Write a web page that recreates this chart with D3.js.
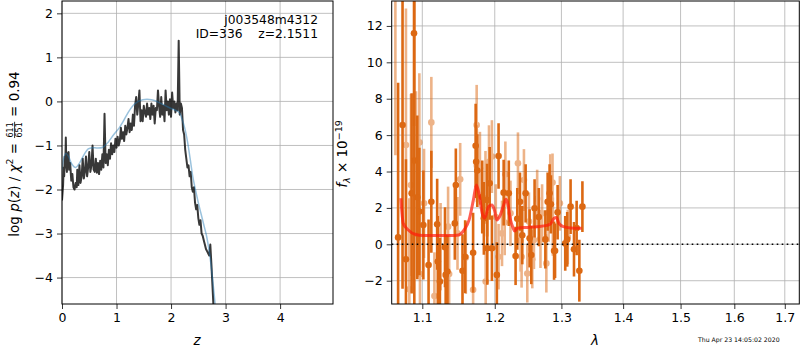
<!DOCTYPE html>
<html><head><meta charset="utf-8">
<script src="https://cdn.jsdelivr.net/npm/d3@7"></script>
<style>body{margin:0;background:#fff}svg{display:block;font-family:"DejaVu Sans",sans-serif}</style>
</head><body><svg id="c" width="800" height="350"></svg>
<script>
// ---------- Left panel: log p(z) ----------
const zGrid = [0.00,0.02,0.03,0.04,0.05,0.06,0.07,0.08,0.09,0.10,0.12,0.13,0.15,0.17,0.19,0.21,0.23,0.25,0.27,0.28,0.30,0.32,0.34,0.36,0.38,0.40,0.42,0.44,0.46,0.48,0.50,0.52,0.54,0.56,0.58,0.60,0.62,0.64,0.66,0.68,0.70,0.72,0.74,0.76,0.78,0.80,0.82,0.84,0.86,0.88,0.90,0.92,0.94,0.96,0.98,1.00,1.02,1.04,1.06,1.08,1.10,1.12,1.14,1.16,1.18,1.20,1.22,1.24,1.26,1.28,1.30,1.32,1.34,1.36,1.38,1.40,1.42,1.44,1.46,1.48,1.50,1.52,1.54,1.56,1.58,1.60,1.62,1.64,1.66,1.68,1.70,1.72,1.74,1.76,1.78,1.80,1.82,1.84,1.86,1.88,1.90,1.92,1.94,1.96,1.98,2.00,2.02,2.04,2.06,2.08,2.10,2.12,2.14,2.16,2.18,2.20,2.22,2.24,2.26,2.28,2.30,2.32,2.34,2.36,2.38,2.40,2.42,2.44,2.46,2.48,2.50,2.52,2.54,2.56,2.58,2.60,2.62,2.64,2.66,2.68,2.70,2.72,2.74,2.76,2.78];
const logPz = [-2.25,-1.9,-1.5,-1.7,-1.25,-1.45,-0.82,-1.5,-1.6,-1.2,-1.15,-1.55,-1.4,-1.8,-1.65,-1.95,-2.0,-1.85,-1.95,-1.55,-1.9,-1.45,-1.85,-1.7,-1.3,-1.75,-1.6,-1.25,-1.7,-1.5,-1.15,-1.6,-1.45,-1.0,-1.55,-1.6,-1.3,-1.62,-1.4,-1.65,-1.35,-1.55,-1.2,-1.5,-0.28,-1.4,-1.2,-1.45,-1.1,-1.3,-0.95,-1.2,-1.0,-1.15,-0.85,-1.05,-0.8,-1.0,-0.9,-0.6,-0.85,-0.7,-0.9,-0.55,-0.75,-0.6,-0.4,-0.7,-0.5,-0.65,-0.3,-0.55,-0.1,0.1,-0.3,-0.05,0.25,-0.45,-0.2,-0.45,-0.1,-0.25,-0.35,-0.05,-0.3,-0.15,-0.4,-0.05,-0.3,-0.1,-0.5,-0.15,-0.2,0.25,-0.1,-0.35,0.1,-0.3,-0.1,-0.45,0.25,-0.2,0.0,-0.3,0.05,-0.35,0.2,-0.15,0.0,-0.25,-0.05,-0.2,1.38,-0.3,-0.05,-0.15,-0.65,-0.75,-1.1,-1.3,-1.5,-1.45,-1.7,-1.6,-1.95,-2.05,-1.95,-2.3,-2.45,-2.35,-2.65,-2.8,-2.7,-3.0,-3.05,-3.15,-3.25,-3.35,-3.4,-3.45,-3.5,-3.25,-3.7,-4.2,-4.7];
const zSmooth = [0.00,0.03,0.07,0.12,0.18,0.25,0.32,0.40,0.48,0.56,0.65,0.75,0.85,0.95,1.05,1.12,1.18,1.25,1.32,1.40,1.48,1.56,1.64,1.72,1.80,1.90,2.00,2.08,2.15,2.20,2.25,2.30,2.35,2.40,2.45,2.50,2.55,2.60,2.65,2.70,2.75,2.80,2.84];
const logPzSmooth = [-1.55,-1.3,-1.18,-1.25,-1.42,-1.5,-1.4,-1.22,-1.08,-1.05,-1.06,-1.04,-0.92,-0.75,-0.6,-0.46,-0.32,-0.18,-0.07,0.0,0.04,0.05,0.04,0.01,-0.04,-0.1,-0.16,-0.2,-0.25,-0.4,-0.6,-0.9,-1.3,-1.72,-2.02,-2.3,-2.55,-2.8,-3.05,-3.4,-3.9,-4.5,-5.0];
const zTicks = [0,1,2,3,4];
const lnpTicks = [-4,-3,-2,-1,0,1,2];

// ---------- Right panel: spectrum ----------
const waveA = [1.0685,1.0742,1.0786,1.0860,1.0891,1.0895,1.0934,1.0961,1.1014,1.1083,1.1120,1.1198,1.1207,1.1235,1.1304,1.1313,1.1337,1.1438,1.1452,1.1544,1.1581,1.1692,1.1728,1.1735,1.1751,1.1821,1.1844,1.1890,1.1893,1.1927,1.1959,1.2030,1.2055,1.2129,1.2204,1.2304,1.2329,1.2369,1.2403,1.2453,1.2513,1.2538,1.2588,1.2652,1.2752,1.2787,1.2817,1.2837,1.2886,1.2901,1.2941,1.3060,1.3091,1.3144,1.3198,1.3240,1.3283,1.3332];
const fluxA = [0.38,6.56,-0.82,2.80,11.6,4.6,2.58,1.80,1.06,-1.14,2.34,1.10,-0.95,-2.05,-0.16,-1.68,-1.50,1.15,3.26,-1.45,-0.68,-0.46,5.42,4.54,4.05,2.60,1.43,2.43,-0.22,3.35,-0.22,-1.68,4.85,2.84,2.80,-0.64,1.40,2.34,0.50,2.80,0.33,-0.59,1.98,1.50,0.27,2.34,2.80,2.20,-0.35,-0.35,1.76,0.05,0.27,2.07,-0.27,0.9,-1.45,2.07];
const errA = [8.5,9.0,5.5,5.5,5.1,9.0,4.5,3.5,3.0,2.5,2.8,2.5,2.5,2.4,2.2,2.2,2.0,2.0,2.0,2.0,2.0,2.2,2.3,2.0,2.0,2.0,2.0,2.0,2.0,2.0,1.8,1.8,1.8,1.8,1.8,1.6,1.7,1.6,1.6,1.6,1.6,1.6,1.6,1.6,1.6,1.6,1.6,1.6,1.6,1.5,1.5,1.5,1.5,1.5,1.5,1.5,1.7,1.4];
const waveB = [1.0650,1.0786,1.0830,1.0851,1.0917,1.0961,1.0969,1.1023,1.1120,1.1161,1.1244,1.1346,1.1360,1.1475,1.1512,1.1590,1.1692,1.1742,1.1745,1.1788,1.1867,1.1870,1.1917,1.1959,1.2015,1.2055,1.2105,1.2144,1.2154,1.2229,1.2339,1.2378,1.2393,1.2428,1.2478,1.2503,1.2553,1.2578,1.2627,1.2677,1.2702,1.2767,1.2802,1.2827,1.2862,1.2867,1.2976,1.3100];
const fluxB = [15.0,5.46,-2.47,3.26,4.41,5.60,-1.63,2.25,6.70,-2.84,-0.13,0.97,-1.63,0.60,3.57,-0.73,-2.50,6.56,4.32,4.18,3.13,-2.05,4.54,4.82,1.5,-0.68,0.60,1.2,3.85,1.70,4.45,0.20,-0.68,3.53,-1.60,1.25,-0.82,0.24,2.50,0.30,1.70,-1.05,1.74,3.35,3.39,0.97,2.25,0.4];
const errB = [10.1,7.5,5.0,5.0,4.0,3.8,3.5,3.0,2.5,2.4,2.4,2.2,2.2,2.0,2.0,2.0,2.0,2.2,2.0,2.0,2.0,2.0,2.0,2.0,1.8,1.8,1.8,1.8,1.8,1.8,1.7,1.7,1.7,1.7,1.6,1.6,1.6,1.6,1.6,1.6,1.6,1.6,1.6,1.6,1.6,1.6,1.5,1.5];
const modelWave = [1.0720,1.0751,1.0816,1.0904,1.1014,1.1383,1.1490,1.1567,1.1636,1.1696,1.1738,1.1774,1.1821,1.1853,1.1913,1.1959,1.1995,1.2030,1.2080,1.2129,1.2164,1.2194,1.2229,1.2269,1.2290,1.2329,1.2478,1.2627,1.2777,1.2837,1.2886,1.2921,1.2961,1.3030,1.3144,1.3320];
const modelFlux = [2.53,1.15,0.79,0.55,0.48,0.48,0.51,0.79,1.34,2.44,3.26,2.80,1.70,1.43,2.07,2.16,1.89,1.34,1.61,2.16,2.47,2.16,1.34,0.88,0.73,0.88,0.93,0.97,1.04,1.15,1.43,1.48,1.15,0.97,0.90,0.88];
const waveTicks = [1.1,1.2,1.3,1.4,1.5,1.6,1.7];
const fluxTicks = [-2,0,2,4,6,8,10,12];

const svg = d3.select("#c");
const L = {x0:62,x1:333,y0:1,y1:304};
const R = {x0:391.7,x1:799.3,y0:1,y1:304};
const zx = d3.scaleLinear().domain([0,4.97]).range([L.x0,L.x1]);
const zy = d3.scaleLinear().domain([-4.6,2.28]).range([L.y1,L.y0]);
const wx = d3.scaleLog().domain([1.0603,1.7299]).range([R.x0,R.x1]);
const fy = d3.scaleLinear().domain([-3.28,13.37]).range([R.y1,R.y0]);
const TF = 12.5;
const GRID = "#b0b0b0";

const defs = svg.append("defs");
defs.append("clipPath").attr("id","cl").append("rect").attr("x",L.x0).attr("y",L.y0).attr("width",L.x1-L.x0).attr("height",L.y1-L.y0);
defs.append("clipPath").attr("id","cr").append("rect").attr("x",R.x0).attr("y",R.y0).attr("width",R.x1-R.x0).attr("height",R.y1-R.y0);

function panel(box, xs, ys, xt, yt, xfmt, yfmt){
  const g = svg.append("g");
  g.selectAll(".gx").data(xt).join("line").attr("x1",d=>xs(d)).attr("x2",d=>xs(d)).attr("y1",box.y0).attr("y2",box.y1).attr("stroke",GRID).attr("stroke-width",0.8);
  g.selectAll(".gy").data(yt).join("line").attr("y1",d=>ys(d)).attr("y2",d=>ys(d)).attr("x1",box.x0).attr("x2",box.x1).attr("stroke",GRID).attr("stroke-width",0.8);
  const ax = svg.append("g").attr("transform",`translate(0,${box.y1})`).call(d3.axisBottom(xs).tickValues(xt).tickFormat(xfmt).tickSize(5).tickPadding(4));
  const ay = svg.append("g").attr("transform",`translate(${box.x0},0)`).call(d3.axisLeft(ys).tickValues(yt).tickFormat(yfmt).tickSize(5).tickPadding(4));
  [ax,ay].forEach(a=>{a.select(".domain").remove();a.selectAll("text").attr("font-size",TF).attr("font-family","DejaVu Sans").attr("fill","#000");a.selectAll("line").attr("stroke","#000").attr("stroke-width",0.8);});
  return g;
}
panel(L, zx, zy, zTicks, lnpTicks, d3.format("d"), d3.format("d"));
panel(R, wx, fy, waveTicks, fluxTicks, d3.format(".1f"), d3.format("d"));

// left data
const gl = svg.append("g").attr("clip-path","url(#cl)");
gl.append("path").datum(zGrid.map((z,i)=>[z,logPz[i]])).attr("d",d3.line().x(d=>zx(d[0])).y(d=>zy(d[1])))
  .attr("fill","none").attr("stroke","#000").attr("stroke-opacity",0.78).attr("stroke-width",2).attr("stroke-linejoin","round");
gl.append("path").datum(zSmooth.map((z,i)=>[z,logPzSmooth[i]])).attr("d",d3.line().curve(d3.curveCatmullRom).x(d=>zx(d[0])).y(d=>zy(d[1])))
  .attr("fill","none").attr("stroke","#1f77b4").attr("stroke-opacity",0.45).attr("stroke-width",1.5);

// right data
const gr = svg.append("g").attr("clip-path","url(#cr)");
const OR = "#dc6812";
function errSet(w,f,e,op){
  const g = gr.append("g").attr("opacity",op);
  const d = w.map((x,i)=>({x,f:f[i],e:e[i]}));
  g.selectAll("line").data(d).join("line").attr("x1",d=>wx(d.x)).attr("x2",d=>wx(d.x)).attr("y1",d=>fy(d.f-d.e)).attr("y2",d=>fy(d.f+d.e)).attr("stroke",OR).attr("stroke-width",2.6);
  g.selectAll("circle").data(d).join("circle").attr("cx",d=>wx(d.x)).attr("cy",d=>fy(d.f)).attr("r",3.3).attr("fill",OR);
}
errSet(waveB,fluxB,errB,0.5);
errSet(waveA,fluxA,errA,1);
gr.append("path").datum(modelWave.map((w,i)=>[w,modelFlux[i]])).attr("d",d3.line().curve(d3.curveMonotoneX).x(d=>wx(d[0])).y(d=>fy(d[1])))
  .attr("fill","none").attr("stroke","#ff1a0a").attr("stroke-opacity",0.7).attr("stroke-width",3);
gr.append("line").attr("x1",R.x0).attr("x2",R.x1).attr("y1",fy(0)).attr("y2",fy(0)).attr("stroke","#000").attr("stroke-width",1.6).attr("stroke-dasharray","1.6,3.4");

// frames
[L,R].forEach(b=>svg.append("rect").attr("x",b.x0).attr("y",b.y0).attr("width",b.x1-b.x0).attr("height",b.y1-b.y0).attr("fill","none").attr("stroke","#000").attr("stroke-width",1));

// annotations
svg.append("text").attr("x",318).attr("y",24).attr("text-anchor","end").attr("font-size",12.3).text("j003548m4312");
svg.append("text").attr("x",318).attr("y",38).attr("text-anchor","end").attr("font-size",12.3).attr("xml:space","preserve").style("white-space","pre").text("ID=336    z=2.1511");

// axis labels
svg.append("text").attr("x",197).attr("y",345).attr("text-anchor","middle").attr("font-size",13.5).attr("font-style","italic").text("z");
svg.append("text").attr("x",595).attr("y",345).attr("text-anchor","middle").attr("font-size",13.5).attr("font-style","italic").text("λ");
svg.append("text").attr("x",698).attr("y",342).attr("font-size",6.2).text("Thu Apr 23 14:05:02 2020");

// left y label with fraction
(function(){
  const fs = 13.5, ffs = 8;
  const g = svg.append("g").attr("transform","translate(14,154) rotate(-90)");
  const inner = g.append("g");
  const t1 = inner.append("text").attr("y",4.5).attr("font-size",fs);
  t1.append("tspan").text("log ");
  t1.append("tspan").attr("font-style","italic").text("p");
  t1.append("tspan").text("(");
  t1.append("tspan").attr("font-style","italic").text("z");
  t1.append("tspan").text(") / ");
  t1.append("tspan").attr("font-style","italic").text("χ");
  t1.append("tspan").attr("font-size",fs*0.7).attr("dy",-5.5).text("2");
  t1.append("tspan").attr("dy",5.5).attr("xml:space","preserve").text(" = ");
  const w1 = t1.node().getComputedTextLength();
  const num = inner.append("text").attr("font-size",ffs).attr("text-anchor","middle").attr("y",-0.8).text("611");
  const fw = num.node().getComputedTextLength() + 2;
  num.attr("x", w1 + fw/2);
  inner.append("text").attr("font-size",ffs).attr("text-anchor","middle").attr("x",w1+fw/2).attr("y",7.6).text("651");
  inner.append("line").attr("x1",w1+0.5).attr("x2",w1+fw-0.5).attr("y1",0.6).attr("y2",0.6).attr("stroke","#000").attr("stroke-width",0.8);
  const t3 = inner.append("text").attr("x",w1+fw).attr("y",4.5).attr("font-size",fs).attr("xml:space","preserve").text(" = 0.94");
  const w3 = t3.node().getComputedTextLength();
  inner.attr("transform",`translate(${-(w1+fw+w3)/2},0)`);
})();

// right y label
(function(){
  const t = svg.append("text").attr("transform","translate(347,154) rotate(-90)").attr("text-anchor","middle").attr("font-size",13.5);
  t.append("tspan").attr("font-style","italic").text("f");
  t.append("tspan").attr("font-size",9.5).attr("font-style","italic").attr("dy",3).text("λ");
  t.append("tspan").attr("dy",-3).attr("xml:space","preserve").text(" × 10");
  t.append("tspan").attr("font-size",9.5).attr("dy",-5.5).text("−19");
})();
</script></body></html>
